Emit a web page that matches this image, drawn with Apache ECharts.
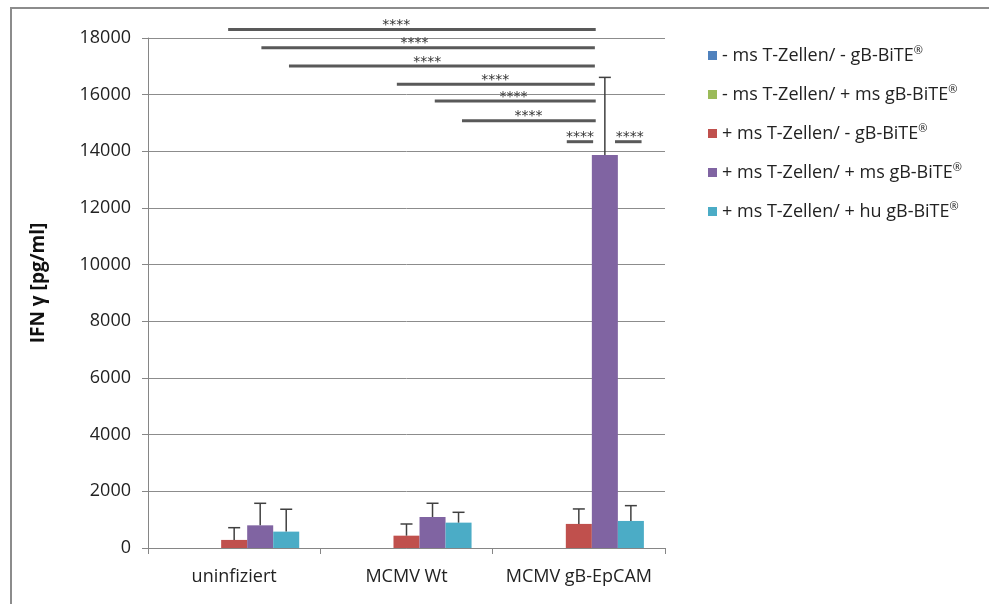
<!DOCTYPE html>
<html><head><meta charset="utf-8">
<script src="https://cdn.jsdelivr.net/npm/echarts@6/dist/echarts.min.js"></script>
<style>
html,body{margin:0;padding:0;background:#fff;overflow:hidden;}
#frame{position:absolute;left:10px;top:7px;width:1000px;height:620px;border-left:2px solid #8c8c8c;border-top:2px solid #8c8c8c;}
#c{position:absolute;left:0;top:0;width:989px;height:604px;}
</style></head><body><div id="frame"></div><div id="c"></div>
<script>
const categories = ['uninfiziert', 'MCMV Wt', 'MCMV gB-EpCAM'];
const seriesNames = [
  '- ms T-Zellen/ - gB-BiTE®',
  '- ms T-Zellen/ + ms gB-BiTE®',
  '+ ms T-Zellen/ - gB-BiTE®',
  '+ ms T-Zellen/ + ms gB-BiTE®',
  '+ ms T-Zellen/ + hu gB-BiTE®'
];
const colors = ['#4F81BD', '#9BBB59', '#C0504D', '#8064A2', '#4BACC6'];
const valBlue   = [0, 0, 0];
const valGreen  = [0, 0, 0];
const valRed    = [285, 435, 850];
const valPurple = [800, 1095, 13870];
const valCyan   = [578, 895, 955];
const errBlue   = [null, null, null];
const errGreen  = [null, null, null];
const errRed    = [432, 412, 528];
const errPurple = [778, 484, 2740];
const errCyan   = [790, 365, 540];
const yTicks = [0, 2000, 4000, 6000, 8000, 10000, 12000, 14000, 16000, 18000];
// significance brackets: [x start, x end, y value, star x] (x in category units)
const sigX1 = [-0.035, 0.158, 0.318, 0.944, 1.164, 1.322, 1.930, 2.210];
const sigX2 = [2.098, 2.093, 2.093, 2.093, 2.098, 2.098, 2.083, 2.364];
const sigY  = [18300, 17660, 17010, 16370, 15780, 15080, 14340, 14340];
const sigStarX = [0.940, 1.046, 1.120, 1.515, 1.621, 1.708, 2.007, 2.295];
const sigLabel = '****';

const values = [valBlue, valGreen, valRed, valPurple, valCyan];
const errors = [errBlue, errGreen, errRed, errPurple, errCyan];
const GAP = 0.245;
const FONT = '"Open Sans", "Liberation Sans", sans-serif';

const errData = [];
errors.forEach((arr, k) => arr.forEach((e, i) => {
  if (e != null) errData.push([i, k, values[k][i], values[k][i] + e]);
}));
const sigData = sigX1.map((x, i) => [x, sigX2[i], sigY[i], sigStarX[i]]);

const chart = echarts.init(document.getElementById('c'));
const series = seriesNames.map((n, k) => ({
  name: n, type: 'bar', data: values[k], itemStyle: { color: colors[k] },
  barGap: 0, barCategoryGap: (GAP * 100) + '%', animation: false
}));
series.push({
  type: 'custom', name: 'err', data: errData, encode: { x: 0, y: 3 },
  silent: true, animation: false, z: 5,
  renderItem: function (params, api) {
    const cat = api.value(0), k = api.value(1), m = api.value(2), t = api.value(3);
    const base = api.coord([cat, m]);
    const top = api.coord([cat, t]);
    const bandW = api.size([1, 0])[0];
    const group = bandW * (1 - GAP);
    const bw = group / 5;
    const x = base[0] - group / 2 + bw * (k + 0.5);
    const st = { stroke: '#404040', lineWidth: 1.5 };
    return { type: 'group', children: [
      { type: 'line', shape: { x1: x, y1: base[1], x2: x, y2: top[1] }, style: st },
      { type: 'line', shape: { x1: x - 6, y1: top[1], x2: x + 6, y2: top[1] }, style: st }
    ]};
  }
});
series.push({
  type: 'custom', name: 'sig', data: sigData, xAxisIndex: 1, encode: { x: [0, 1, 3], y: 2 },
  silent: true, animation: false, clip: false, z: 6,
  renderItem: function (params, api) {
    const p1 = api.coord([api.value(0), api.value(2)]);
    const p2 = api.coord([api.value(1), api.value(2)]);
    const ps = api.coord([api.value(3), api.value(2)]);
    return { type: 'group', children: [
      { type: 'line', shape: { x1: p1[0], y1: p1[1], x2: p2[0], y2: p2[1] }, style: { stroke: '#595959', lineWidth: 3 } },
      { type: 'text', x: ps[0], y: p1[1] - 4, style: { text: sigLabel, fill: '#333', font: '14px "DejaVu Sans", sans-serif', align: 'center', verticalAlign: 'middle' } }
    ]};
  }
});

chart.setOption({
  animation: false,
  color: colors,
  grid: { left: 148, right: 324, top: 38, bottom: 56 },
  legend: {
    data: seriesNames, orient: 'vertical', left: 703, top: 40,
    itemWidth: 9, itemHeight: 9, itemGap: 19.5, icon: 'rect',
    textStyle: { fontFamily: FONT, fontSize: 18, color: '#222',
      rich: { n: { fontFamily: FONT, fontSize: 18, color: '#222' },
              s: { fontFamily: FONT, fontSize: 11, color: '#222', padding: [0, 0, 10, 0] } } },
    formatter: function (name) { return '{n|' + name.replace('®', '}{s|®}'); }
  },
  xAxis: [{
    type: 'category', data: categories,
    axisLine: { lineStyle: { color: '#868686', width: 1 } },
    axisTick: { show: true, length: 6, lineStyle: { color: '#868686' } },
    axisLabel: { fontFamily: FONT, fontSize: 18, color: '#222', margin: 20, interval: 0 }
  }, {
    type: 'value', min: -0.5, max: 2.5, show: false
  }],
  yAxis: {
    type: 'value', min: yTicks[0], max: yTicks[yTicks.length - 1], interval: yTicks[1] - yTicks[0],
    name: 'IFN γ [pg/ml]', nameLocation: 'middle', nameGap: 100,
    nameTextStyle: { fontFamily: FONT, fontSize: 19, fontWeight: 'bold', color: '#111', padding: [0, 0, 0, 20] },
    axisLine: { show: true, onZero: false, lineStyle: { color: '#868686' } },
    axisTick: { show: true, length: 6, lineStyle: { color: '#868686' } },
    axisLabel: { fontFamily: FONT, fontSize: 18, color: '#222', margin: 17, formatter: function (v) { return String(v); } },
    splitLine: { lineStyle: { color: '#8c8c8c', width: 1 } }
  },
  series: series
});
</script></body></html>
